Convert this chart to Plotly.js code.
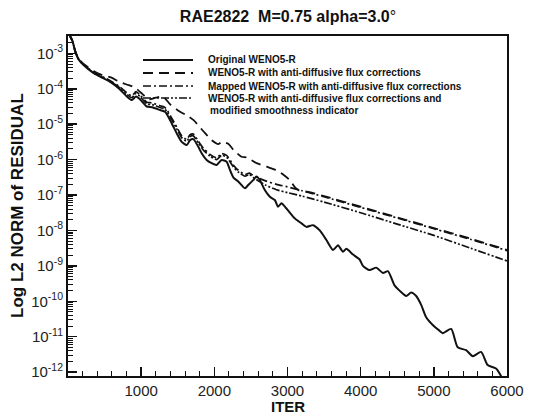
<!DOCTYPE html>
<html>
<head>
<meta charset="utf-8">
<script src="https://cdn.plot.ly/plotly-3.0.1.min.js"></script>
<style>html,body{margin:0;padding:0;background:#fff;}#chart{width:552px;height:420px;}</style>
</head>
<body>
<div id="chart"></div>
<script>
// ---- data ----
const seriesNames = [
  "Original WENO5-R",
  "WENO5-R with anti-diffusive flux corrections",
  "Mapped WENO5-R with anti-diffusive flux corrections",
  "WENO5-R with anti-diffusive flux corrections and",
  "modified smoothness indicator"
];

const iterOriginal = [0,60,100,145,213,350,450,531,622,700,805,873,930,986,1077,1150,1259,1327,1418,1486,1554,1623,1668,1713,1781,1827,1895,1963,2032,2100,2168,2213,2259,2327,2418,2463,2531,2577,2622,2690,2759,2827,2872,2918,2986,3100,3191,3259,3350,3441,3532,3622,3690,3758,3804,3895,3986,4031,4122,4213,4304,4372,4463,4531,4622,4690,4759,4827,4895,5000,5060,5122,5237,5326,5441,5531,5646,5736,5850,5918,5960];
const resOriginal = [3.98e-3,2.24e-3,1.12e-3,6.76e-4,4.68e-4,2.75e-4,2.14e-4,1.78e-4,1.35e-4,1.0e-4,6.03e-5,4.79e-5,6.03e-5,5.01e-5,3.16e-5,3.02e-5,2.51e-5,2.24e-5,1.05e-5,5.5e-6,3.16e-6,2.57e-6,3.55e-6,3.8e-6,2.29e-6,1.51e-6,9.77e-7,7.94e-7,7.08e-7,9.77e-7,8.71e-7,5.13e-7,3.16e-7,2.4e-7,1.55e-7,1.91e-7,2.63e-7,3.31e-7,2.63e-7,1.38e-7,8.91e-8,7.24e-8,4.68e-8,5.89e-8,4.17e-8,2.19e-8,1.58e-8,1.26e-8,1.41e-8,1.0e-8,5.37e-9,2.82e-9,3.8e-9,2.51e-9,3.02e-9,2.09e-9,1.51e-9,1.0e-9,7.59e-10,8.91e-10,6.31e-10,7.08e-10,2.82e-10,2.0e-10,1.41e-10,1.78e-10,1.41e-10,7.94e-11,3.55e-11,2.0e-11,1.58e-11,1.26e-11,1.66e-11,5.01e-12,4.17e-12,2.82e-12,3.72e-12,1.58e-12,1.26e-12,7.76e-13,5.01e-13];

const iterAntiDiff = [0,60,100,145,213,350,450,586,700,800,904,1018,1100,1200,1300,1400,1532,1623,1713,1850,1963,2054,2100,2190,2259,2372,2441,2577,2714,2850,2940,3032,3100,3150,3300,3500,4000,4500,5000,5500,6000];
const resAntiDiff = [3.98e-3,2.24e-3,1.12e-3,7.08e-4,5.01e-4,3.16e-4,2.51e-4,2.09e-4,1.58e-4,1.32e-4,1.12e-4,7.08e-5,5.01e-5,5.62e-5,6.03e-5,3.55e-5,2.24e-5,1.78e-5,1.32e-5,6.31e-6,3.55e-6,2.75e-6,3.16e-6,2.82e-6,1.91e-6,1.2e-6,1.15e-6,7.94e-7,6.31e-7,5.01e-7,3.8e-7,2.63e-7,1.66e-7,1.38e-7,1.2e-7,9.33e-8,4.68e-8,2.34e-8,1.17e-8,5.89e-9,2.82e-9];

const iterMapped = [0,60,100,145,213,350,531,622,700,805,873,930,986,1077,1150,1259,1327,1418,1486,1554,1623,1668,1713,1781,1850,1940,2032,2100,2168,2259,2327,2418,2480,2531,2600,2700,2850,3000,3200,3500,4000,4500,5000,5500,6000];
const resMapped = [3.98e-3,2.24e-3,1.12e-3,6.92e-4,4.9e-4,2.95e-4,1.91e-4,1.48e-4,1.17e-4,7.59e-5,6.31e-5,8.32e-5,6.61e-5,4.17e-5,3.98e-5,3.31e-5,2.95e-5,1.48e-5,8.32e-6,4.68e-6,3.72e-6,5.01e-6,5.25e-6,3.31e-6,2.09e-6,1.41e-6,1.12e-6,1.48e-6,1.32e-6,7.08e-7,5.01e-7,3.8e-7,4.17e-7,3.55e-7,3.02e-7,2.51e-7,2.0e-7,1.7e-7,1.32e-7,8.91e-8,4.47e-8,2.24e-8,1.12e-8,5.62e-9,2.69e-9];

const iterModified = [0,60,100,145,213,350,531,622,700,805,873,930,986,1077,1150,1259,1327,1418,1486,1554,1623,1668,1713,1781,1850,1940,2032,2100,2168,2259,2327,2418,2480,2531,2600,2700,2850,3000,3200,3500,4000,4500,5000,5500,6000];
const resModified = [3.98e-3,2.24e-3,1.12e-3,6.76e-4,4.79e-4,2.82e-4,1.82e-4,1.41e-4,1.1e-4,6.92e-5,5.62e-5,7.41e-5,6.03e-5,3.72e-5,3.55e-5,2.95e-5,2.63e-5,1.32e-5,7.41e-6,4.17e-6,3.31e-6,4.47e-6,4.68e-6,2.95e-6,1.86e-6,1.26e-6,1.0e-6,1.32e-6,1.17e-6,6.31e-7,4.47e-7,3.39e-7,3.8e-7,3.16e-7,2.51e-7,1.91e-7,1.41e-7,1.17e-7,9.33e-8,6.31e-8,3.16e-8,1.51e-8,7.24e-9,3.16e-9,1.38e-9];

const xTickVals = [1000,2000,3000,4000,5000,6000];
const xTickText = ["1000","2000","3000","4000","5000","6000"];
const yExponents = [-12,-11,-10,-9,-8,-7,-6,-5,-4,-3];

// ---- styling ----
const FONT = "Liberation Sans, Arial, Helvetica, sans-serif";
const dashes = ["solid", "10px,6px", "8px,3px,2px,3px", "8px,2px,2px,2px,2px,2px"];
const widths = [2, 1.8, 1.7, 1.7];

const yTickVals = yExponents.map(e => Math.pow(10, e));
const yTickText = yExponents.map(e => "10<sup>" + e + "</sup>");
const yMinor = [];
yExponents.forEach(e => { for (let m = 2; m <= 9; m++) { const v = m * Math.pow(10, e); if (v < Math.pow(10, -2.51)) yMinor.push(v); } });
const xMinor = [];
for (let v = 200; v < 6000; v += 200) if (v % 1000 !== 0) xMinor.push(v);

const xs = [iterOriginal, iterAntiDiff, iterMapped, iterModified];
const ys = [resOriginal, resAntiDiff, resMapped, resModified];
const names = [seriesNames[0], seriesNames[1], seriesNames[2], seriesNames[3] + " " + seriesNames[4]];

const traces = xs.map((x, i) => ({
  x: x, y: ys[i], type: "scatter", mode: "lines", name: names[i],
  line: {color: "#111", width: widths[i], dash: dashes[i], shape: "spline", smoothing: 0.6},
  showlegend: false, hoverinfo: "skip"
}));

// manual compact legend (top-left inside plot)
const L = 68, R = 507, T = 36, B = 376;
const px = v => (v - L) / (R - L);
const py = v => (B - v) / (B - T);
const legendRows = [60, 73, 86, 98];
const shapes = legendRows.map((r, i) => ({
  type: "line", xref: "paper", yref: "paper",
  x0: px(143), x1: px(193), y0: py(r), y1: py(r),
  line: {color: "#111", width: widths[i], dash: dashes[i]}
}));
const legendTexts = [seriesNames[0], seriesNames[1], seriesNames[2], seriesNames[3], seriesNames[4]];
const legendTextY = [60, 73, 86, 98, 110];
const annotations = legendTexts.map((t, i) => ({
  text: "<b>" + t + "</b>", xref: "paper", yref: "paper",
  x: px(i === 4 ? 208 : 206), y: py(legendTextY[i]), xanchor: "left", yanchor: "middle",
  showarrow: false, font: {family: FONT, size: 10, color: "#111"}
}));
annotations.push({
  text: "<b>Log L2 NORM of RESIDUAL</b>", xref: "paper", yref: "paper",
  x: px(17), y: 0.5, xanchor: "center", yanchor: "middle", textangle: -90,
  showarrow: false, font: {family: FONT, size: 17, color: "#111"}
});
annotations.push({
  text: "<b>ITER</b>", xref: "paper", yref: "paper",
  x: 0.5, y: py(407), xanchor: "center", yanchor: "middle",
  showarrow: false, font: {family: FONT, size: 15, color: "#111"}
});

const layout = {
  width: 552, height: 420,
  margin: {l: L, r: 552 - R, t: T, b: 420 - B, pad: 0},
  paper_bgcolor: "#fff", plot_bgcolor: "#fff",
  title: {text: "<b>RAE2822\u00a0 M=0.75 alpha=3.0</b>°", x: 288 / 552, xanchor: "center", y: 1 - 16 / 420, yanchor: "middle",
          font: {family: FONT, size: 16, color: "#111"}},
  showlegend: false,
  xaxis: {
    range: [0, 6000], tickmode: "array", tickvals: xTickVals, ticktext: xTickText,
    ticks: "inside", ticklen: 9, tickwidth: 1.5, tickcolor: "#111",
    minor: {tickmode: "array", tickvals: xMinor, ticks: "inside", ticklen: 5, tickwidth: 1, tickcolor: "#111", showgrid: false},
    showline: true, linewidth: 2, linecolor: "#111", mirror: true,
    showgrid: false, zeroline: false,
    tickfont: {family: FONT, size: 15, color: "#222"}
  },
  yaxis: {
    type: "log", range: [-12.11, -2.51], tickmode: "array", tickvals: yTickVals, ticktext: yTickText,
    ticks: "inside", ticklen: 9, tickwidth: 1.5, tickcolor: "#111",
    minor: {tickmode: "array", tickvals: yMinor, ticks: "inside", ticklen: 5, tickwidth: 1, tickcolor: "#111", showgrid: false},
    showline: true, linewidth: 2, linecolor: "#111", mirror: true,
    showgrid: false, zeroline: false,
    tickfont: {family: FONT, size: 15, color: "#222"}
  },
  shapes: shapes,
  annotations: annotations
};

Plotly.newPlot("chart", traces, layout, {staticPlot: true, displayModeBar: false});
</script>
</body>
</html>
